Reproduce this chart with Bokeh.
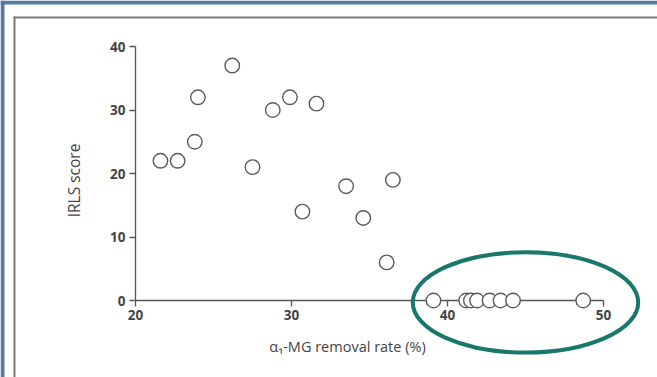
import math
from bokeh.plotting import figure
from bokeh.models import FixedTicker, BoxAnnotation, Label
from bokeh.embed import file_html
from bokeh.resources import INLINE

# ---- data ----
removal_rate = [21.6, 22.7, 23.8, 24.0, 26.2, 27.5, 28.8, 29.9, 30.7, 31.6,
                33.5, 34.6, 36.1, 36.5,
                39.1, 41.2, 41.5, 41.9, 42.7, 43.4, 44.2, 48.7]
irls_score = [22, 22, 25, 32, 37, 21, 30, 32, 14, 31,
              18, 13, 6, 19,
              0, 0, 0, 0, 0, 0, 0, 0]
x_ticks = [20, 30, 40, 50]
y_ticks = [0, 10, 20, 30, 40]
x_label = "α₁-MG removal rate (%)"
y_label = "IRLS score"

W, H = 657, 377
# pixel mapping of the plotting area
PX_PER_X = 15.6
PX_PER_Y = 6.35
X0_PX = 135   # pixel of x=20
Y0_PX = 300   # pixel of y=0
x_start = 20 - X0_PX / PX_PER_X
x_end = 20 + (W - X0_PX) / PX_PER_X
y_end = Y0_PX / PX_PER_Y
y_start = -(H - Y0_PX) / PX_PER_Y


def dx(px):
    return x_start + px / PX_PER_X


def dy(py):
    return y_end - py / PX_PER_Y


p = figure(width=W, height=H, x_range=(x_start, x_end), y_range=(y_start, y_end),
           output_backend="svg", toolbar_location=None, min_border=0,
           background_fill_color="white", border_fill_color="white",
           outline_line_color=None)
p.grid.visible = False

# blue page strips (top and left) and the grey inner frame lines
strips = [
    dict(bottom=dy(4), fill_color="#557aa6"),                      # top strip
    dict(right=dx(4), fill_color="#557aa6"),                       # left strip
    dict(left=dx(13), top=dy(16), bottom=dy(18), fill_color="#7a7a7a"),   # frame top
    dict(left=dx(13), right=dx(15), top=dy(16), fill_color="#7a7a7a"),    # frame left
]
for s in strips:
    p.add_layout(BoxAnnotation(fill_alpha=1, line_color=None, line_alpha=0,
                               line_width=0, level="underlay", **s))

font = "Open Sans"
for ax, loc, bnds, ticks in ((p.xaxis, 0, (20, 50), x_ticks), (p.yaxis, 20, (0, 40), y_ticks)):
    ax.fixed_location = loc
    ax.bounds = bnds
    ax.ticker = FixedTicker(ticks=ticks)
    ax.minor_tick_line_color = None
    ax.axis_line_color = "#555555"
    ax.axis_line_width = 1.3
    ax.major_tick_line_color = "#555555"
    ax.major_tick_line_width = 1.3
    ax.major_tick_in = 0
    ax.major_tick_out = 6
    ax.major_label_text_font = font
    ax.major_label_text_font_size = "13.5px"
    ax.major_label_text_font_style = "bold"
    ax.major_label_text_color = "#444444"
p.xaxis.major_label_standoff = 3
p.yaxis.major_label_standoff = 4

p.scatter(removal_rate, irls_score, marker="circle", size=14.5, fill_color="white",
          line_color="#5a5a5a", line_width=1.4, level="overlay")

# highlight ellipse round the zero-score group
p.ellipse(x=[45.0], y=[-0.3], width=[14.45], height=[15.8], fill_color=None,
          line_color="#17786b", line_width=4, level="overlay")

p.add_layout(Label(x=dx(347), y=dy(346), text=x_label, text_align="center",
                   text_baseline="middle", text_font=font, text_font_size="14.5px",
                   text_color="#444444"))
p.add_layout(Label(x=dx(73), y=dy(180), text=y_label, text_align="center",
                   text_baseline="middle", angle=math.pi / 2, text_font=font,
                   text_font_size="15.5px", text_color="#444444"))

open("out.html", "w").write(file_html(p, INLINE))
